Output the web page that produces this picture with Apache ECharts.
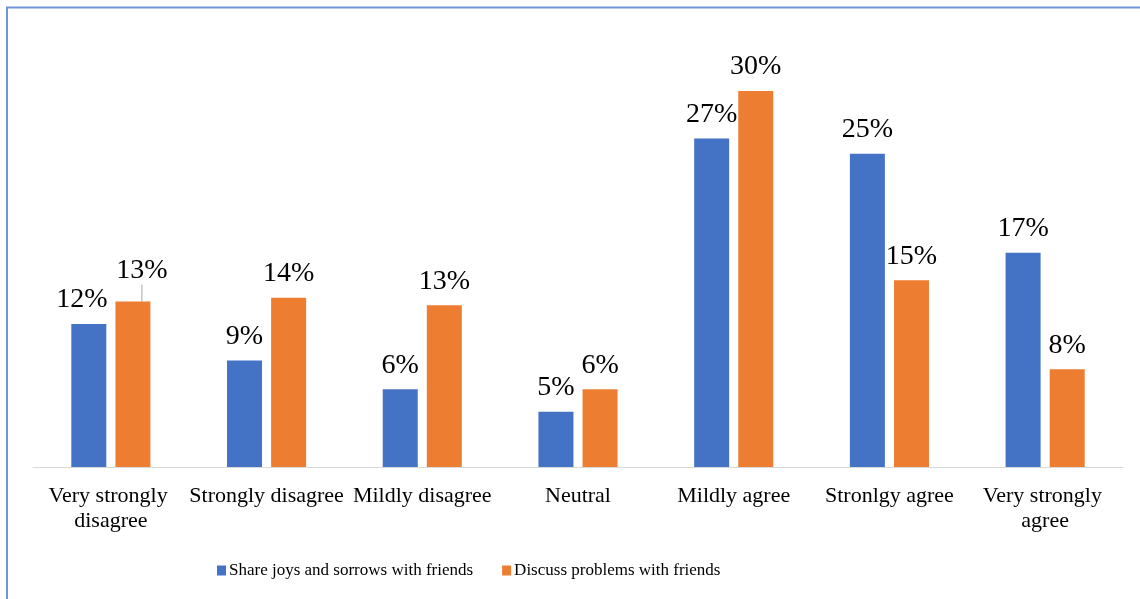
<!DOCTYPE html>
<html>
<head>
<meta charset="utf-8">
<script src="https://cdn.jsdelivr.net/npm/echarts@6/dist/echarts.min.js"></script>
<style>
html,body{margin:0;padding:0;background:#fff;}
#c{width:1140px;height:599px;}
</style>
</head>
<body>
<div id="c"></div>
<script>
var categories = ['Very strongly disagree', 'Strongly disagree', 'Mildly disagree', 'Neutral', 'Mildly agree', 'Stronlgy agree', 'Very strongly agree'];
var seriesNames = ['Share joys and sorrows with friends', 'Discuss problems with friends'];
// bar heights as drawn (percent)
var shareValues = [11.4, 8.5, 6.2, 4.4, 26.2, 25.0, 17.1];
var discussValues = [13.2, 13.5, 12.9, 6.2, 30.0, 14.9, 7.8];
// printed data labels (percent)
var shareLabels = [12, 9, 6, 5, 27, 25, 17];
var discussLabels = [13, 14, 13, 6, 30, 15, 8];

var FONT = "'Liberation Serif', 'Times New Roman', serif";
var chart = echarts.init(document.getElementById('c'), null, {renderer: 'canvas'});

function makeData(values, labels, lineIdx) {
  return values.map(function (v, i) {
    var d = {value: v, printed: labels[i]};
    if (i === lineIdx) {
      d.labelLine = {show: true, lineStyle: {color: '#a6a6a6', width: 1}};
    }
    return d;
  });
}

var labelBase = {
  show: true,
  position: 'top',
  distance: 10,
  color: '#000',
  fontFamily: FONT,
  fontSize: 28
};

chart.setOption({
  animation: false,
  backgroundColor: '#fff',
  graphic: [{
    type: 'rect',
    shape: {x: 7, y: 7.5, width: 1200, height: 700},
    style: {fill: 'none', stroke: '#7094d8', lineWidth: 2},
    silent: true
  }],
  grid: {left: 33, right: 17, top: 28.3, bottom: 132, containLabel: false},
  legend: {
    left: 212,
    top: 557,
    itemWidth: 9,
    itemHeight: 10,
    itemGap: 29,
    icon: 'rect',
    textStyle: {fontFamily: FONT, fontSize: 17, color: '#000', padding: [0, 0, 0, -2]},
    data: seriesNames
  },
  xAxis: {
    type: 'category',
    data: categories,
    axisLine: {show: true, lineStyle: {color: '#d9d9d9', width: 1}},
    axisTick: {show: false},
    axisLabel: {
      interval: 0,
      margin: 17,
      color: '#000',
      fontFamily: FONT,
      fontSize: 22,
      lineHeight: 25,
      width: 160,
      overflow: 'break'
    }
  },
  yAxis: {
    type: 'value',
    min: 0,
    max: 35,
    show: false,
    splitLine: {show: false}
  },
  series: [{
    name: seriesNames[0],
    type: 'bar',
    barWidth: 35,
    barGap: '26%',
    itemStyle: {color: '#4472C4'},
    label: Object.assign({}, labelBase, {
      formatter: function (p) { return p.data.printed + '%'; }
    }),
    labelLayout: function (p) {
      if (p.dataIndex === 0) return {dx: -7};
      return {};
    },
    data: makeData(shareValues, shareLabels, -1)
  }, {
    name: seriesNames[1],
    type: 'bar',
    barWidth: 35,
    barGap: '26%',
    itemStyle: {color: '#ED7D31'},
    label: Object.assign({}, labelBase, {
      formatter: function (p) { return p.data.printed + '%'; }
    }),
    labelLine: {show: false},
    labelLayout: function (p) {
      if (p.dataIndex === 0) return {dx: 9, dy: -7};
      return {};
    },
    data: makeData(discussValues, discussLabels, 0)
  }]
});
</script>
</body>
</html>
